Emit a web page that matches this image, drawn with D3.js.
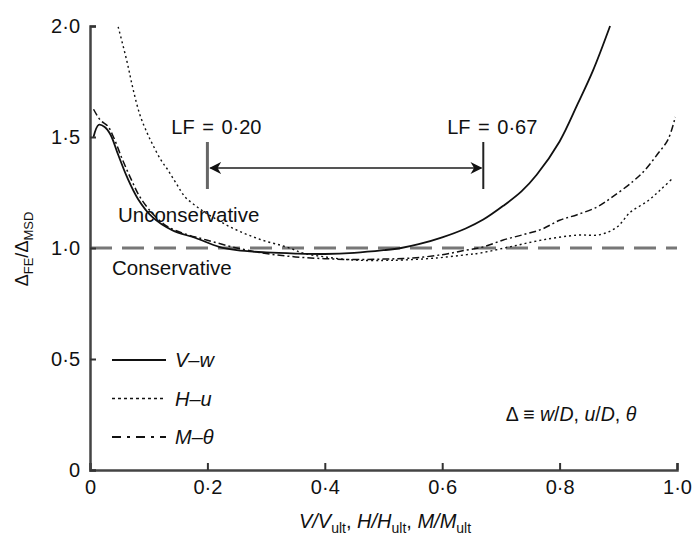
<!DOCTYPE html>
<html>
<head>
<meta charset="utf-8">
<script src="https://cdn.jsdelivr.net/npm/d3@7"></script>
<style>
  body { margin: 0; background: #fff; }
  svg { font-family: "Liberation Sans", Arial, sans-serif; }
</style>
</head>
<body>
<svg width="695" height="541"></svg>
<script>
// V-w (solid)
var vwX = [0.006,0.015,0.025,0.035,0.048,0.063,0.082,0.106,0.14,0.18,0.22,0.25,0.3,0.35,0.4,0.45,0.5,0.53,0.56,0.6,0.64,0.67,0.704,0.735,0.761,0.8,0.831,0.857,0.886];
var vwY = [1.50,1.555,1.545,1.51,1.42,1.32,1.22,1.14,1.08,1.045,1.005,0.99,0.98,0.975,0.973,0.978,0.99,1.0,1.017,1.048,1.088,1.128,1.19,1.255,1.33,1.48,1.65,1.80,2.0];

// H-u (dotted)
var huX = [0.048,0.063,0.073,0.085,0.097,0.106,0.12,0.133,0.147,0.162,0.18,0.196,0.215,0.235,0.255,0.278,0.3,0.324,0.345,0.363,0.4,0.448,0.5,0.533,0.59,0.642,0.664,0.715,0.77,0.83,0.869,0.898,0.92,0.949,0.971,0.991];
var huY = [1.996,1.84,1.72,1.60,1.52,1.47,1.40,1.35,1.29,1.23,1.19,1.16,1.13,1.10,1.075,1.05,1.03,1.013,0.995,0.977,0.96,0.946,0.944,0.946,0.955,0.97,0.977,1.005,1.036,1.058,1.06,1.095,1.16,1.21,1.26,1.31];

// M-theta (dash-dot)
var mtX = [0.006,0.018,0.03,0.04,0.055,0.07,0.085,0.105,0.13,0.16,0.2,0.25,0.3,0.35,0.4,0.45,0.5,0.55,0.6,0.64,0.67,0.704,0.738,0.77,0.8,0.83,0.864,0.89,0.925,0.945,0.966,0.985,0.997];
var mtY = [1.625,1.575,1.55,1.50,1.40,1.31,1.23,1.16,1.10,1.065,1.035,1.0,0.975,0.96,0.952,0.948,0.95,0.955,0.97,0.99,1.005,1.036,1.06,1.085,1.125,1.15,1.185,1.23,1.30,1.35,1.42,1.49,1.59];

var xTicks = [0, 0.2, 0.4, 0.6, 0.8, 1.0];
var yTicks = [0, 0.5, 1.0, 1.5, 2.0];
var lfValues = [0.20, 0.67];
var refLevel = 1.0;

var fmt = function(d) { return d === 0 ? "0" : d3.format(".1f")(d).replace(".", "\u00b7"); };

var svg = d3.select("svg");
var x = d3.scaleLinear().domain([0, 1]).range([90, 677]);
var y = d3.scaleLinear().domain([0, 2]).range([470, 26]);

svg.append("defs").append("marker")
    .attr("id", "head")
    .attr("viewBox", "0 0 10 10")
    .attr("refX", 9).attr("refY", 5)
    .attr("markerWidth", 12).attr("markerHeight", 12)
    .attr("markerUnits", "userSpaceOnUse")
    .attr("orient", "auto-start-reverse")
    .append("path").attr("d", "M0,0 L10,5 L0,10 L3,5 z").attr("fill", "#111");

// reference line
svg.append("line")
    .attr("x1", x(0)).attr("x2", x(1))
    .attr("y1", y(refLevel)).attr("y2", y(refLevel))
    .attr("stroke", "#777").attr("stroke-width", 3)
    .attr("stroke-dasharray", "22,10");

var line = d3.line()
    .x(function(d) { return x(d[0]); })
    .y(function(d) { return y(d[1]); })
    .curve(d3.curveCatmullRom);

function series(xs, ys) { return xs.map(function(v, i) { return [v, ys[i]]; }); }

svg.append("path").datum(series(huX, huY))
    .attr("fill", "none").attr("stroke", "#111").attr("stroke-width", 1.4)
    .attr("stroke-dasharray", "2,3").attr("d", line);
svg.append("path").datum(series(mtX, mtY))
    .attr("fill", "none").attr("stroke", "#111").attr("stroke-width", 1.5)
    .attr("stroke-dasharray", "7,3,2,3").attr("d", line);
svg.append("path").datum(series(vwX, vwY))
    .attr("fill", "none").attr("stroke", "#111").attr("stroke-width", 1.8)
    .attr("d", line);

// axes
var xAxis = svg.append("g")
    .attr("transform", "translate(0," + y(0) + ")")
    .call(d3.axisBottom(x).tickValues(xTicks).tickFormat(fmt).tickSize(-7).tickPadding(10));
var yAxis = svg.append("g")
    .attr("transform", "translate(" + x(0) + ",0)")
    .call(d3.axisLeft(y).tickValues(yTicks).tickFormat(fmt).tickSize(-6).tickPadding(10));
[xAxis, yAxis].forEach(function(a) {
  a.select(".domain").attr("stroke", "#444").attr("stroke-width", 2.5);
  a.selectAll(".tick line").attr("stroke", "#333").attr("stroke-width", 2);
  a.selectAll(".tick text").attr("fill", "#111").style("font-size", "20px")
    .style("font-family", "'Liberation Sans', Arial, sans-serif");
});

// LF markers
lfValues.forEach(function(lf, i) {
  svg.append("line")
      .attr("x1", x(lf)).attr("x2", x(lf)).attr("y1", 142).attr("y2", 189)
      .attr("stroke", i === 0 ? "#666" : "#222").attr("stroke-width", i === 0 ? 3 : 2);
  svg.append("text")
      .attr("x", x(lf) + 9).attr("y", 134)
      .attr("text-anchor", "middle").style("font-size", "20px").attr("fill", "#111")
      .style("word-spacing", "2px")
      .text("LF = " + d3.format(".2f")(lf).replace(".", "\u00b7"));
});
svg.append("line")
    .attr("x1", x(lfValues[0]) + 3).attr("x2", x(lfValues[1]) - 2)
    .attr("y1", 168).attr("y2", 168)
    .attr("stroke", "#555").attr("stroke-width", 2)
    .attr("marker-start", "url(#head)").attr("marker-end", "url(#head)");

svg.append("text").attr("x", 118).attr("y", 222).style("font-size", "20.5px").attr("fill", "#111").text("Unconservative");
svg.append("text").attr("x", 112).attr("y", 275).style("font-size", "20.5px").attr("fill", "#111").text("Conservative");

// legend
var legend = [
  {label: ["V", "w"], dash: null, w: 2.2},
  {label: ["H", "u"], dash: "3,3", w: 1.4},
  {label: ["M", "\u03b8"], dash: "9,6,3,6", w: 2}
];
legend.forEach(function(d, i) {
  var ly = 360 + i * 38.5;
  svg.append("line").attr("x1", 112).attr("x2", 166).attr("y1", ly).attr("y2", ly)
      .attr("stroke", "#111").attr("stroke-width", d.w)
      .attr("stroke-dasharray", d.dash);
  svg.append("text").attr("x", 175).attr("y", ly + 7).style("font-size", "20px")
      .style("font-style", "italic").attr("fill", "#111")
      .text(d.label[0] + "\u2013" + d.label[1]);
});

svg.append("text").attr("x", 571).attr("y", 421).attr("text-anchor", "middle")
    .style("font-size", "19.5px").attr("fill", "#111")
    .html('\u0394 \u2261 <tspan font-style="italic">w</tspan>/<tspan font-style="italic">D</tspan>, <tspan font-style="italic">u</tspan>/<tspan font-style="italic">D</tspan>, <tspan font-style="italic">\u03b8</tspan>');

// axis titles
var xt = svg.append("text").attr("x", 385).attr("y", 528).attr("text-anchor", "middle")
    .style("font-size", "20px").attr("fill", "#111");
[["V/V", "ult", ", "], ["H/H", "ult", ", "], ["M/M", "ult", ""]].forEach(function(p) {
  xt.append("tspan").style("font-style", "italic").text(p[0]);
  xt.append("tspan").attr("dy", 5).style("font-size", "14px").text(p[1]);
  xt.append("tspan").attr("dy", -5).text(p[2]);
});

var yt = svg.append("text").attr("transform", "translate(28,249) rotate(-90)")
    .attr("text-anchor", "middle").style("font-size", "18px").attr("fill", "#111");
yt.append("tspan").text("\u0394");
yt.append("tspan").attr("dy", 5).style("font-size", "13px").text("FE");
yt.append("tspan").attr("dy", -5).text("/\u0394");
yt.append("tspan").attr("dy", 5).style("font-size", "13px").text("MSD");
</script>
</body>
</html>
